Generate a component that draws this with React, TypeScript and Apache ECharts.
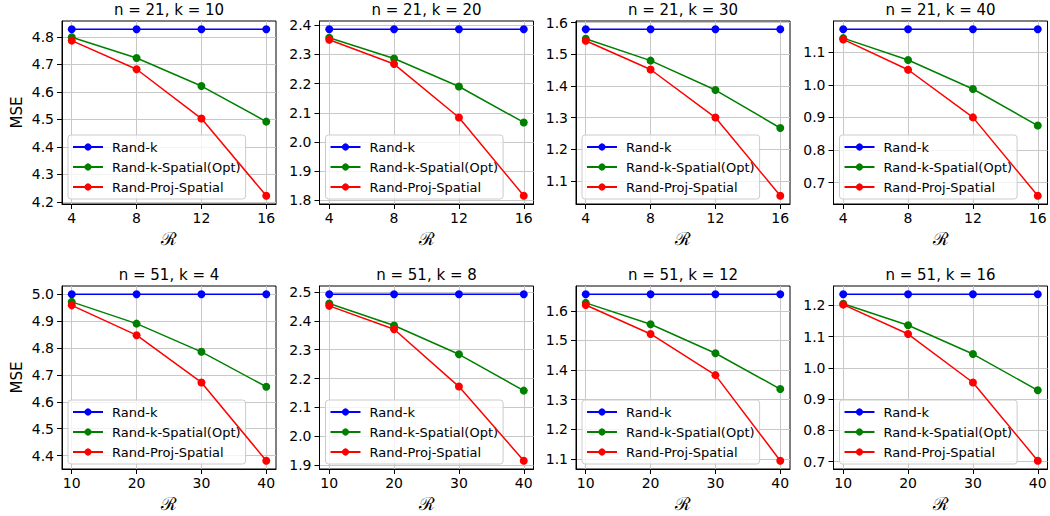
import React, { useEffect, useRef } from 'react';
import * as echarts from 'echarts';

// ---------- data ----------
const R_TOP = [4, 8, 12, 16];
const R_BOTTOM = [10, 20, 30, 40];
const SERIES_NAMES = ['Rand-k', 'Rand-k-Spatial(Opt)', 'Rand-Proj-Spatial'];
const TITLES = [
  'n = 21, k = 10', 'n = 21, k = 20', 'n = 21, k = 30', 'n = 21, k = 40',
  'n = 51, k = 4', 'n = 51, k = 8', 'n = 51, k = 12', 'n = 51, k = 16',
];

// n = 21
const P1_RAND_K = [4.827, 4.827, 4.827, 4.827];
const P1_SPATIAL = [4.798, 4.723, 4.621, 4.492];
const P1_PROJ = [4.786, 4.682, 4.503, 4.223];

const P2_RAND_K = [2.386, 2.386, 2.386, 2.386];
const P2_SPATIAL = [2.357, 2.286, 2.190, 2.067];
const P2_PROJ = [2.350, 2.267, 2.084, 1.816];

const P3_RAND_K = [1.579, 1.579, 1.579, 1.579];
const P3_SPATIAL = [1.549, 1.480, 1.387, 1.267];
const P3_PROJ = [1.543, 1.452, 1.300, 1.053];

const P4_RAND_K = [1.170, 1.170, 1.170, 1.170];
const P4_SPATIAL = [1.143, 1.076, 0.987, 0.875];
const P4_PROJ = [1.139, 1.046, 0.900, 0.660];

// n = 51
const P5_RAND_K = [5.000, 5.000, 5.000, 5.000];
const P5_SPATIAL = [4.972, 4.891, 4.786, 4.656];
const P5_PROJ = [4.959, 4.848, 4.672, 4.381];

const P6_RAND_K = [2.492, 2.492, 2.492, 2.492];
const P6_SPATIAL = [2.460, 2.384, 2.284, 2.158];
const P6_PROJ = [2.452, 2.371, 2.172, 1.915];

const P7_RAND_K = [1.656, 1.656, 1.656, 1.656];
const P7_SPATIAL = [1.627, 1.555, 1.457, 1.336];
const P7_PROJ = [1.620, 1.522, 1.383, 1.094];

const P8_RAND_K = [1.235, 1.235, 1.235, 1.235];
const P8_SPATIAL = [1.205, 1.136, 1.044, 0.928];
const P8_PROJ = [1.202, 1.108, 0.953, 0.703];

// y tick labels
const P1_YTICKS = [4.2, 4.3, 4.4, 4.5, 4.6, 4.7, 4.8];
const P2_YTICKS = [1.8, 1.9, 2.0, 2.1, 2.2, 2.3, 2.4];
const P3_YTICKS = [1.1, 1.2, 1.3, 1.4, 1.5, 1.6];
const P4_YTICKS = [0.7, 0.8, 0.9, 1.0, 1.1];
const P5_YTICKS = [4.4, 4.5, 4.6, 4.7, 4.8, 4.9, 5.0];
const P6_YTICKS = [1.9, 2.0, 2.1, 2.2, 2.3, 2.4, 2.5];
const P7_YTICKS = [1.1, 1.2, 1.3, 1.4, 1.5, 1.6];
const P8_YTICKS = [0.7, 0.8, 0.9, 1.0, 1.1, 1.2];

const PANELS = [
  [P1_RAND_K, P1_SPATIAL, P1_PROJ, P1_YTICKS],
  [P2_RAND_K, P2_SPATIAL, P2_PROJ, P2_YTICKS],
  [P3_RAND_K, P3_SPATIAL, P3_PROJ, P3_YTICKS],
  [P4_RAND_K, P4_SPATIAL, P4_PROJ, P4_YTICKS],
  [P5_RAND_K, P5_SPATIAL, P5_PROJ, P5_YTICKS],
  [P6_RAND_K, P6_SPATIAL, P6_PROJ, P6_YTICKS],
  [P7_RAND_K, P7_SPATIAL, P7_PROJ, P7_YTICKS],
  [P8_RAND_K, P8_SPATIAL, P8_PROJ, P8_YTICKS],
];

// ---------- layout / style ----------
const COLORS = ['#0000ff', '#008000', '#ff0000'];
const FONT = 'DejaVu Sans';
const COL_LEFT = [62, 319.5, 576, 833.5];
const ROW_TOP = [21, 286];
const GW = 214;
const GH = 183;

function buildOption() {
  const grid: any[] = [];
  const xAxis: any[] = [];
  const yAxis: any[] = [];
  const series: any[] = [];
  const legend: any[] = [];
  const graphic: any[] = [];

  PANELS.forEach((p, i) => {
    const row = i < 4 ? 0 : 1;
    const col = i % 4;
    const xs = row === 0 ? R_TOP : R_BOTTOM;
    const vals = [p[0], p[1], p[2]] as number[][];
    const yt = p[3] as number[];
    const all = vals.flat();
    const dmin = Math.min(...all);
    const dmax = Math.max(...all);
    const ym = (dmax - dmin) * 0.05;
    const xr = xs[xs.length - 1] - xs[0];
    const xm = xr * 0.05;
    const left = COL_LEFT[col];
    const top = ROW_TOP[row];

    grid.push({ left, top, width: GW, height: GH, show: true, borderColor: '#000', borderWidth: 1, backgroundColor: 'transparent' });

    xAxis.push({
      gridIndex: i, type: 'value', min: xs[0] - xm, max: xs[xs.length - 1] + xm,
      axisLine: { show: true, onZero: false, lineStyle: { color: '#000', width: 1 } },
      axisTick: { show: true, customValues: xs, length: 5, lineStyle: { color: '#000' } },
      axisLabel: { customValues: xs, color: '#000', fontSize: 14, fontFamily: FONT, margin: 7 },
      splitLine: { show: true, lineStyle: { color: '#c8c8c8', width: 1 } },
      name: 'ℛ', nameLocation: 'middle', nameGap: 25,
      nameTextStyle: { color: '#000', fontSize: 18, fontFamily: 'DejaVu Serif' },
    });

    yAxis.push({
      gridIndex: i, type: 'value', min: dmin - ym, max: dmax + ym,
      axisLine: { show: true, onZero: false, lineStyle: { color: '#000', width: 1 } },
      axisTick: { show: true, customValues: yt, length: 5, lineStyle: { color: '#000' } },
      axisLabel: { customValues: yt, color: '#000', fontSize: 14, fontFamily: FONT, margin: 8, formatter: (v: number) => v.toFixed(1) },
      splitLine: { show: true, lineStyle: { color: '#c8c8c8', width: 1 } },
      name: col === 0 ? 'MSE' : '', nameLocation: 'middle', nameGap: 38, nameRotate: 90,
      nameTextStyle: { color: '#000', fontSize: 15, fontFamily: FONT },
    });

    vals.forEach((v, s) => {
      series.push({
        type: 'line', name: SERIES_NAMES[s], xAxisIndex: i, yAxisIndex: i,
        data: xs.map((x, j) => [x, v[j]]),
        symbol: 'circle', symbolSize: 8, showSymbol: true,
        lineStyle: { color: COLORS[s], width: 1.5 },
        itemStyle: { color: COLORS[s] },
        z: 3 + s,
      });
    });

    legend.push({
      data: SERIES_NAMES, orient: 'vertical', left: left + 6, top: row === 0 ? 135 : 400,
      itemWidth: 30, itemHeight: 9, itemGap: 4, padding: [4, 5, 4, 4],
      backgroundColor: 'rgba(255,255,255,0.8)', borderColor: '#cccccc', borderWidth: 1, borderRadius: 3,
      selectedMode: false,
      textStyle: { color: '#000', fontSize: 13, fontFamily: FONT, padding: [0, 0, 0, 4], lineHeight: 16 },
    });

    graphic.push({
      type: 'text', x: left + GW / 2, y: row === 0 ? 10 : 275,
      style: { text: TITLES[i], fill: '#000', fontSize: 15, fontFamily: FONT, align: 'center', verticalAlign: 'middle' },
    });
  });

  return { animation: false, backgroundColor: '#fff', grid, xAxis, yAxis, series, legend, graphic };
}

export default function App() {
  const ref = useRef<HTMLDivElement>(null);
  useEffect(() => {
    if (!ref.current) return;
    const chart = echarts.init(ref.current, undefined, { renderer: 'svg' });
    chart.setOption(buildOption() as any);
    return () => chart.dispose();
  }, []);
  return <div ref={ref} style={{ position: 'absolute', left: 0, top: 0, width: 1050, height: 516 }} />;
}
